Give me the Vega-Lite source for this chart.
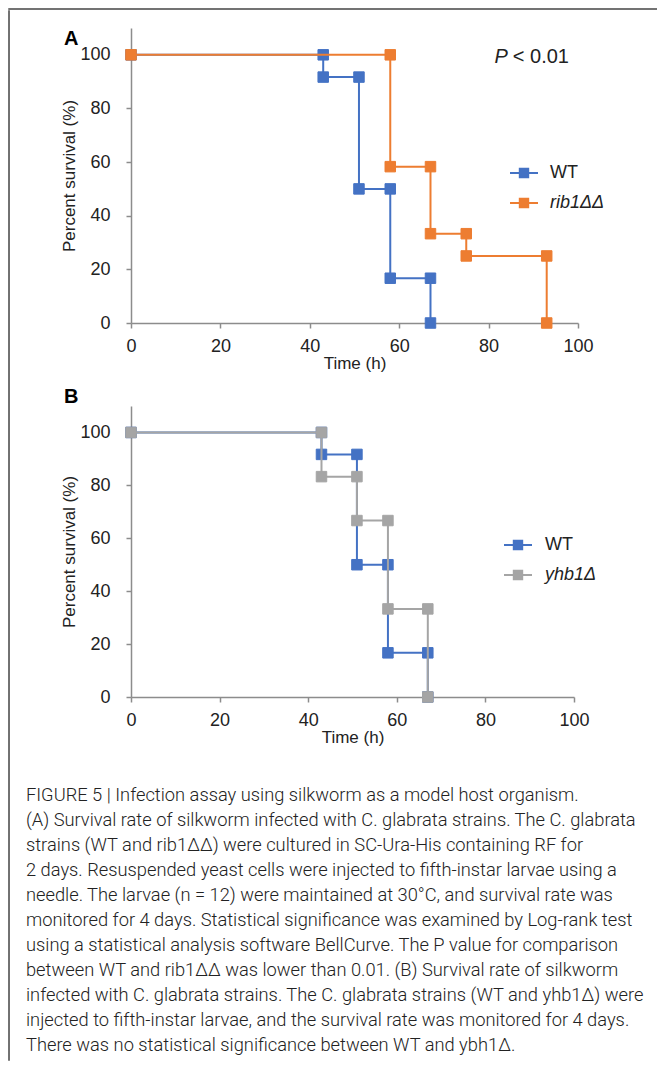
{
  "$schema": "https://vega.github.io/schema/vega-lite/v6.json",
  "padding": {"left": 8, "top": 8, "right": 0, "bottom": 0},
  "background": "white",
  "spacing": 0,
  "datasets": {
    "survA": [
      {"strain": "WT", "step": 0, "time": 0, "survival": 100},
      {"strain": "WT", "step": 1, "time": 43, "survival": 100},
      {"strain": "WT", "step": 2, "time": 43, "survival": 91.7},
      {"strain": "WT", "step": 3, "time": 51, "survival": 91.7},
      {"strain": "WT", "step": 4, "time": 51, "survival": 50},
      {"strain": "WT", "step": 5, "time": 58, "survival": 50},
      {"strain": "WT", "step": 6, "time": 58, "survival": 16.7},
      {"strain": "WT", "step": 7, "time": 67, "survival": 16.7},
      {"strain": "WT", "step": 8, "time": 67, "survival": 0},
      {"strain": "rib1ΔΔ", "step": 0, "time": 0, "survival": 100},
      {"strain": "rib1ΔΔ", "step": 1, "time": 58, "survival": 100},
      {"strain": "rib1ΔΔ", "step": 2, "time": 58, "survival": 58.3},
      {"strain": "rib1ΔΔ", "step": 3, "time": 67, "survival": 58.3},
      {"strain": "rib1ΔΔ", "step": 4, "time": 67, "survival": 33.3},
      {"strain": "rib1ΔΔ", "step": 5, "time": 75, "survival": 33.3},
      {"strain": "rib1ΔΔ", "step": 6, "time": 75, "survival": 25},
      {"strain": "rib1ΔΔ", "step": 7, "time": 93, "survival": 25},
      {"strain": "rib1ΔΔ", "step": 8, "time": 93, "survival": 0}
    ],
    "survB": [
      {"strain": "WT", "step": 0, "time": 0, "survival": 100},
      {"strain": "WT", "step": 1, "time": 43, "survival": 100},
      {"strain": "WT", "step": 2, "time": 43, "survival": 91.7},
      {"strain": "WT", "step": 3, "time": 51, "survival": 91.7},
      {"strain": "WT", "step": 4, "time": 51, "survival": 50},
      {"strain": "WT", "step": 5, "time": 58, "survival": 50},
      {"strain": "WT", "step": 6, "time": 58, "survival": 16.7},
      {"strain": "WT", "step": 7, "time": 67, "survival": 16.7},
      {"strain": "WT", "step": 8, "time": 67, "survival": 0},
      {"strain": "yhb1Δ", "step": 0, "time": 0, "survival": 100},
      {"strain": "yhb1Δ", "step": 1, "time": 43, "survival": 100},
      {"strain": "yhb1Δ", "step": 2, "time": 43, "survival": 83.3},
      {"strain": "yhb1Δ", "step": 3, "time": 51, "survival": 83.3},
      {"strain": "yhb1Δ", "step": 4, "time": 51, "survival": 66.7},
      {"strain": "yhb1Δ", "step": 5, "time": 58, "survival": 66.7},
      {"strain": "yhb1Δ", "step": 6, "time": 58, "survival": 33.3},
      {"strain": "yhb1Δ", "step": 7, "time": 67, "survival": 33.3},
      {"strain": "yhb1Δ", "step": 8, "time": 67, "survival": 0}
    ],
    "annA": [
      {"time": 84.3, "survival": 97, "label": "P"},
      {"time": 84.3, "survival": 97, "label": "< 0.01"}
    ]
  },
  "config": {
    "font": "Liberation Sans",
    "view": {"stroke": null},
    "axis": {
      "grid": false,
      "domainColor": "#8c8c8c",
      "domainWidth": 1.5,
      "tickColor": "#8c8c8c",
      "tickWidth": 1.5,
      "tickSize": 5,
      "labelFont": "Liberation Sans",
      "labelFontSize": 18,
      "labelColor": "#222",
      "titleFont": "Liberation Sans",
      "titleFontSize": 17,
      "titleFontWeight": "normal",
      "titleColor": "#222"
    },
    "axisX": {"labelPadding": 9, "titlePadding": 0, "labelFlush": false},
    "axisY": {"labelPadding": 16, "titlePadding": 1}
  },
  "vconcat": [
    {
      "width": 649, "height": 0.01,
      "data": {"values": []},
      "mark": "point",
      "encoding": {},
      "view": {"stroke": "#444", "strokeWidth": 1.5}
    },
    {
      "spacing": 15,
      "hconcat": [
        {
          "width": 0.01, "height": 1049,
          "data": {"values": []},
          "mark": "point",
          "encoding": {},
          "view": {"stroke": "#444", "strokeWidth": 1.5}
        },
        {
          "spacing": 16,
          "resolve": {
            "scale": {"fill": "independent", "stroke": "independent"},
            "legend": {"fill": "independent", "stroke": "independent"}
          },
          "title": {
            "text": [
              "FIGURE 5 | Infection assay using silkworm as a model host organism.",
              "(A) Survival rate of silkworm infected with C. glabrata strains. The C. glabrata",
              "strains (WT and rib1ΔΔ) were cultured in SC-Ura-His containing RF for",
              "2 days. Resuspended yeast cells were injected to fifth-instar larvae using a",
              "needle. The larvae (n = 12) were maintained at 30°C, and survival rate was",
              "monitored for 4 days. Statistical significance was examined by Log-rank test",
              "using a statistical analysis software BellCurve. The P value for comparison",
              "between WT and rib1ΔΔ was lower than 0.01. (B) Survival rate of silkworm",
              "infected with C. glabrata strains. The C. glabrata strains (WT and yhb1Δ) were",
              "injected to fifth-instar larvae, and the survival rate was monitored for 4 days.",
              "There was no statistical significance between WT and ybh1Δ."
            ],
            "orient": "bottom",
            "anchor": "start",
            "frame": "bounds",
            "align": "left",
            "dx": -35,
            "offset": 42,
            "font": "Roboto",
            "fontSize": 18.3,
            "fontWeight": 300,
            "color": "#222",
            "lineHeight": 25
          },
          "vconcat": [
            {
              "width": 0.01, "height": 0.01,
              "data": {"values": []},
              "mark": "point",
              "encoding": {}
            },
            {
              "width": 447, "height": 295,
              "title": {"text": "A", "anchor": "start", "frame": "group", "dx": -67, "dy": 36.5, "offset": 0, "baseline": "alphabetic", "fontSize": 20, "fontWeight": "bold", "font": "Liberation Sans", "color": "#000"},
              "layer": [
                {
                  "data": {"name": "survA"},
                  "transform": [{"filter": "datum.strain === 'WT'"}],
                  "mark": {"type": "line", "strokeWidth": 2},
                  "encoding": {
                    "x": {"field": "time", "type": "quantitative", "title": "Time (h)", "scale": {"domain": [0, 100], "nice": false}, "axis": {"values": [0, 20, 40, 60, 80, 100]}},
                    "y": {"field": "survival", "type": "quantitative", "title": "Percent survival (%)", "scale": {"domain": [0, 110], "nice": false}, "axis": {"values": [0, 20, 40, 60, 80, 100]}},
                    "order": {"field": "step", "type": "quantitative"},
                    "stroke": {"field": "strain", "type": "nominal", "scale": {"domain": ["WT", "rib1ΔΔ"], "range": ["#4472C4", "#ED7D31"]}}
                  }
                },
                {
                  "data": {"name": "survA"},
                  "transform": [{"filter": "datum.strain === 'WT'"}],
                  "mark": {"type": "point", "shape": "square", "filled": true, "size": 110, "opacity": 1, "strokeWidth": 1},
                  "encoding": {
                    "x": {"field": "time", "type": "quantitative"},
                    "y": {"field": "survival", "type": "quantitative"},
                    "fill": {
                      "field": "strain", "type": "nominal",
                      "scale": {"domain": ["WT", "rib1ΔΔ"], "range": ["#4472C4", "#ED7D31"]},
                      "legend": {
                        "orient": "none", "legendX": 378, "legendY": 130, "title": null,
                        "symbolType": "M-1,0H1M-0.3,-0.3H0.3V0.3H-0.3Z",
                        "symbolSize": 784, "symbolStrokeWidth": 2, "symbolOpacity": 1,
                        "labelFont": "Liberation Sans", "labelFontSize": 18, "labelColor": "#222",
                        "labelFontStyle": {"expr": "datum.value === 'WT' ? 'normal' : 'italic'"},
                        "labelOffset": 11, "rowPadding": 6, "padding": 0
                      }
                    },
                    "stroke": {
                      "field": "strain", "type": "nominal",
                      "legend": {
                        "orient": "none", "legendX": 378, "legendY": 130, "title": null,
                        "symbolType": "M-1,0H1M-0.3,-0.3H0.3V0.3H-0.3Z",
                        "symbolSize": 784, "symbolStrokeWidth": 2, "symbolOpacity": 1,
                        "labelFont": "Liberation Sans", "labelFontSize": 18, "labelColor": "#222",
                        "labelFontStyle": {"expr": "datum.value === 'WT' ? 'normal' : 'italic'"},
                        "labelOffset": 11, "rowPadding": 6, "padding": 0
                      }
                    }
                  }
                },
                {
                  "data": {"name": "survA"},
                  "transform": [{"filter": "datum.strain === 'rib1ΔΔ'"}],
                  "mark": {"type": "line", "strokeWidth": 2},
                  "encoding": {
                    "x": {"field": "time", "type": "quantitative"},
                    "y": {"field": "survival", "type": "quantitative"},
                    "order": {"field": "step", "type": "quantitative"},
                    "stroke": {"field": "strain", "type": "nominal"}
                  }
                },
                {
                  "data": {"name": "survA"},
                  "transform": [{"filter": "datum.strain === 'rib1ΔΔ'"}],
                  "mark": {"type": "point", "shape": "square", "filled": true, "size": 110, "opacity": 1, "strokeWidth": 1},
                  "encoding": {
                    "x": {"field": "time", "type": "quantitative"},
                    "y": {"field": "survival", "type": "quantitative"},
                    "fill": {"field": "strain", "type": "nominal"},
                    "stroke": {"field": "strain", "type": "nominal"}
                  }
                },
                {
                  "data": {"name": "annA"},
                  "transform": [{"filter": "datum.label === 'P'"}],
                  "mark": {"type": "text", "align": "right", "baseline": "alphabetic", "fontStyle": "italic", "fontSize": 20, "font": "Liberation Sans", "color": "#222"},
                  "encoding": {
                    "x": {"field": "time", "type": "quantitative"},
                    "y": {"field": "survival", "type": "quantitative"},
                    "text": {"field": "label"}
                  }
                },
                {
                  "data": {"name": "annA"},
                  "transform": [{"filter": "datum.label !== 'P'"}],
                  "mark": {"type": "text", "align": "left", "baseline": "alphabetic", "dx": 5, "fontSize": 20, "font": "Liberation Sans", "color": "#222"},
                  "encoding": {
                    "x": {"field": "time", "type": "quantitative"},
                    "y": {"field": "survival", "type": "quantitative"},
                    "text": {"field": "label"}
                  }
                }
              ]
            },
            {
              "width": 443, "height": 291,
              "title": {"text": "B", "anchor": "start", "frame": "group", "dx": -67, "dy": 17, "offset": 0, "baseline": "alphabetic", "fontSize": 20, "fontWeight": "bold", "font": "Liberation Sans", "color": "#000"},
              "layer": [
                {
                  "data": {"name": "survB"},
                  "transform": [{"filter": "datum.strain === 'WT'"}],
                  "mark": {"type": "line", "strokeWidth": 2},
                  "encoding": {
                    "x": {"field": "time", "type": "quantitative", "title": "Time (h)", "scale": {"domain": [0, 100], "nice": false}, "axis": {"values": [0, 20, 40, 60, 80, 100]}},
                    "y": {"field": "survival", "type": "quantitative", "title": "Percent survival (%)", "scale": {"domain": [0, 110], "nice": false}, "axis": {"values": [0, 20, 40, 60, 80, 100]}},
                    "order": {"field": "step", "type": "quantitative"},
                    "stroke": {"field": "strain", "type": "nominal", "scale": {"domain": ["WT", "yhb1Δ"], "range": ["#4472C4", "#A5A5A5"]}}
                  }
                },
                {
                  "data": {"name": "survB"},
                  "transform": [{"filter": "datum.strain === 'WT'"}],
                  "mark": {"type": "point", "shape": "square", "filled": true, "size": 110, "opacity": 1, "strokeWidth": 1},
                  "encoding": {
                    "x": {"field": "time", "type": "quantitative"},
                    "y": {"field": "survival", "type": "quantitative"},
                    "fill": {
                      "field": "strain", "type": "nominal",
                      "scale": {"domain": ["WT", "yhb1Δ"], "range": ["#4472C4", "#A5A5A5"]},
                      "legend": {
                        "orient": "none", "legendX": 372, "legendY": 124, "title": null,
                        "symbolType": "M-1,0H1M-0.3,-0.3H0.3V0.3H-0.3Z",
                        "symbolSize": 784, "symbolStrokeWidth": 2, "symbolOpacity": 1,
                        "labelFont": "Liberation Sans", "labelFontSize": 18, "labelColor": "#222",
                        "labelFontStyle": {"expr": "datum.value === 'WT' ? 'normal' : 'italic'"},
                        "labelOffset": 12, "rowPadding": 6, "padding": 0
                      }
                    },
                    "stroke": {
                      "field": "strain", "type": "nominal",
                      "legend": {
                        "orient": "none", "legendX": 372, "legendY": 124, "title": null,
                        "symbolType": "M-1,0H1M-0.3,-0.3H0.3V0.3H-0.3Z",
                        "symbolSize": 784, "symbolStrokeWidth": 2, "symbolOpacity": 1,
                        "labelFont": "Liberation Sans", "labelFontSize": 18, "labelColor": "#222",
                        "labelFontStyle": {"expr": "datum.value === 'WT' ? 'normal' : 'italic'"},
                        "labelOffset": 12, "rowPadding": 6, "padding": 0
                      }
                    }
                  }
                },
                {
                  "data": {"name": "survB"},
                  "transform": [{"filter": "datum.strain === 'yhb1Δ'"}],
                  "mark": {"type": "line", "strokeWidth": 2},
                  "encoding": {
                    "x": {"field": "time", "type": "quantitative"},
                    "y": {"field": "survival", "type": "quantitative"},
                    "order": {"field": "step", "type": "quantitative"},
                    "stroke": {"field": "strain", "type": "nominal"}
                  }
                },
                {
                  "data": {"name": "survB"},
                  "transform": [{"filter": "datum.strain === 'yhb1Δ'"}],
                  "mark": {"type": "point", "shape": "square", "filled": true, "size": 110, "opacity": 1, "strokeWidth": 1},
                  "encoding": {
                    "x": {"field": "time", "type": "quantitative"},
                    "y": {"field": "survival", "type": "quantitative"},
                    "fill": {"field": "strain", "type": "nominal"},
                    "stroke": {"field": "strain", "type": "nominal"}
                  }
                }
              ]
            }
          ]
        }
      ]
    }
  ]
}
